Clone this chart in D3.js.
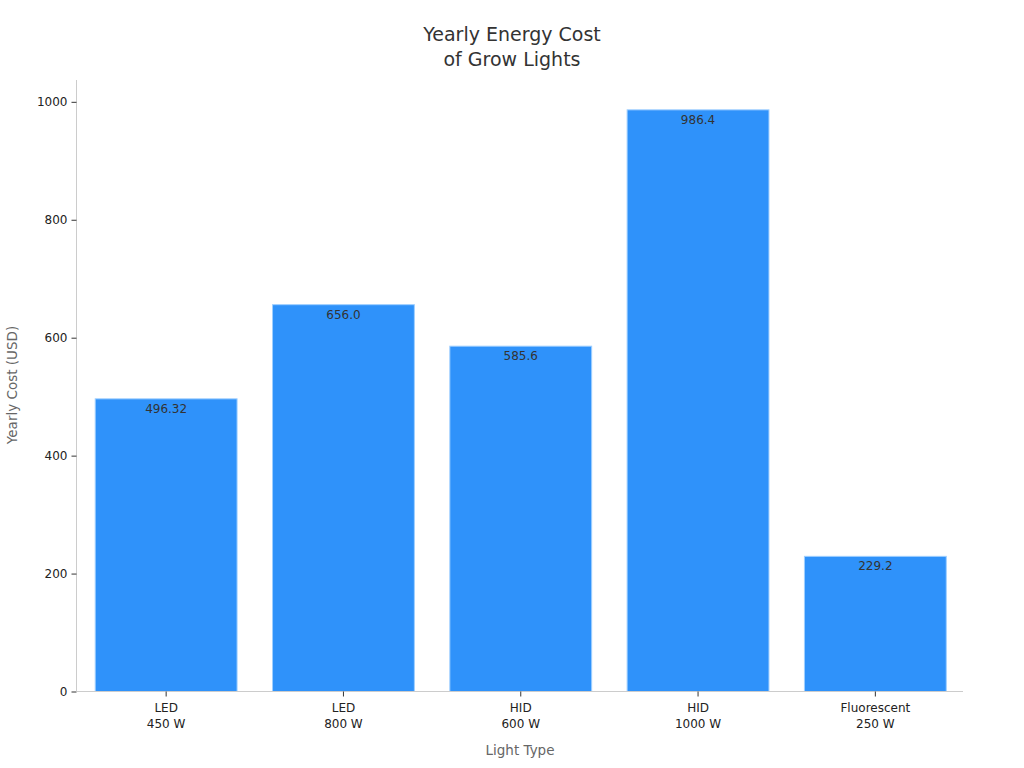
<!DOCTYPE html>
<html><head><meta charset="utf-8">
<script src="https://cdn.jsdelivr.net/npm/d3@7"></script>
<style>body{margin:0;background:#fff;font-family:"DejaVu Sans",sans-serif;}</style>
</head><body><svg id="c" width="1024" height="768"></svg>
<script>
const categories = ["LED\n450 W", "LED\n800 W", "HID\n600 W", "HID\n1000 W", "Fluorescent\n250 W"];
const values = [496.32, 656.0, 585.6, 986.4, 229.2];
const valueLabels = ["496.32", "656.0", "585.6", "986.4", "229.2"];
const yTicks = [0, 200, 400, 600, 800, 1000];

const svg = d3.select("#c");
const m = {l: 76.5, r: 963, t: 80, b: 691.5};
const x = d3.scaleBand().domain(categories).range([m.l + 1, m.r + 1]).paddingInner(0.2).paddingOuter(0.1);
const y = d3.scaleLinear().domain([0, 1037]).range([m.b, m.t]);

svg.append("g").selectAll("rect").data(values).join("rect")
  .attr("x", (d,i) => x(categories[i]))
  .attr("width", x.bandwidth())
  .attr("y", d => y(d))
  .attr("height", d => y(0) - y(d))
  .attr("fill", "#2f92fa")
  .attr("stroke", "#9fcfff").attr("stroke-width", 1);

svg.append("g").selectAll("text").data(values).join("text")
  .attr("x", (d,i) => x(categories[i]) + x.bandwidth()/2)
  .attr("y", d => y(d) + 14)
  .attr("text-anchor", "middle")
  .attr("font-size", 12).attr("fill", "#333")
  .text((d,i) => valueLabels[i]);

// y axis
const ya = svg.append("g").attr("transform", `translate(${m.l},0)`)
  .call(d3.axisLeft(y).tickValues(yTicks).tickSize(5).tickPadding(4).tickFormat(d3.format("d")));
ya.select(".domain").attr("stroke", "#ccc").attr("d", `M0,${m.t}V${m.b}`);
ya.selectAll(".tick line").attr("stroke", "#333");
ya.selectAll(".tick text").attr("font-size", 12).attr("fill", "#222").attr("font-family", "DejaVu Sans");

// x axis
const xa = svg.append("g").attr("transform", `translate(0,${m.b})`)
  .call(d3.axisBottom(x).tickSize(5).tickPadding(4).tickFormat(""));
xa.select(".domain").attr("stroke", "#ccc").attr("d", `M${m.l},0H${m.r}`);
xa.selectAll(".tick line").attr("stroke", "#333");
xa.selectAll(".tick").each(function(d){
  const t = d3.select(this).append("text").attr("fill", "#222").attr("font-size", 12)
    .attr("text-anchor", "middle").attr("font-family", "DejaVu Sans");
  d.split("\n").forEach((s, i) => t.append("tspan").attr("x", 0).attr("y", 20 + i*16).text(s));
});

svg.append("text").attr("x", 512).attr("y", 41).attr("text-anchor", "middle")
  .attr("font-size", 19).attr("fill", "#333").text("Yearly Energy Cost");
svg.append("text").attr("x", 512).attr("y", 66).attr("text-anchor", "middle")
  .attr("font-size", 19).attr("fill", "#333").text("of Grow Lights");

svg.append("text").attr("x", 520).attr("y", 755).attr("text-anchor", "middle")
  .attr("font-size", 13.5).attr("fill", "#666").text("Light Type");
svg.append("text").attr("transform", "translate(17,385) rotate(-90)").attr("text-anchor", "middle")
  .attr("font-size", 13.5).attr("fill", "#666").text("Yearly Cost (USD)");
</script></body></html>
